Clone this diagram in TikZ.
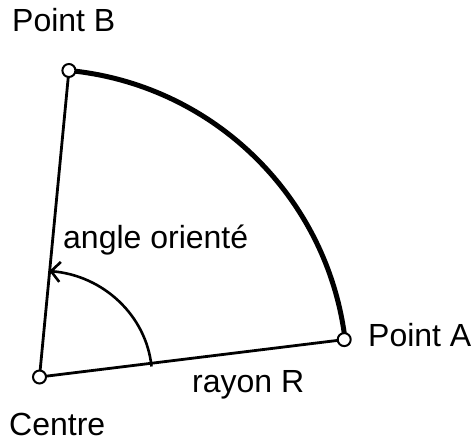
\documentclass[tikz,border=0pt]{standalone}
\usepackage{fontspec}
\setmainfont{Liberation Sans}
\usetikzlibrary{arrows.meta}
\begin{document}
\begin{tikzpicture}[x=1pt,y=1pt,
  pt/.style={circle,draw,fill=white,line width=2pt,minimum size=13pt,inner sep=0pt},
  lbl/.style={font=\fontsize{32}{36}\selectfont,inner sep=0pt,anchor=base west},
  rayline/.style={line width=2.8pt},
  bigarc/.style={line width=5pt},
  anglearc/.style={line width=2.6pt,-{Straight Barb[length=9pt,width=20pt]}}]
\useasboundingbox (0,0) rectangle (476,441);
\coordinate (Cc) at (39.5,64);
\coordinate (Ac) at (344.2,101.4);
\coordinate (Bc) at (68.9,370.5);
\coordinate (S) at (151.5,74.5);
\draw[rayline] (Cc) -- (Ac);
\draw[rayline] (Cc) -- (Bc);
\draw[bigarc] (Bc) arc[start angle=84.5,end angle=7,radius=308];
\draw[anglearc] (S) arc[start angle=5.5,end angle=85,x radius=112.5,y radius=106];
\node[pt] (C) at (Cc) {};
\node[pt] (A) at (Ac) {};
\node[pt] (B) at (Bc) {};
\node[lbl] (lB) at (12,409) {Point B};
\node[lbl] (lA) at (368,94.5) {Point A};
\node[lbl] (lC) at (9,5.5) {Centre};
\node[lbl] (lR) at (192,48.5) {rayon R};
\node[lbl] (lang) at (63,192.5) {angle orienté};
\end{tikzpicture}
\end{document}
